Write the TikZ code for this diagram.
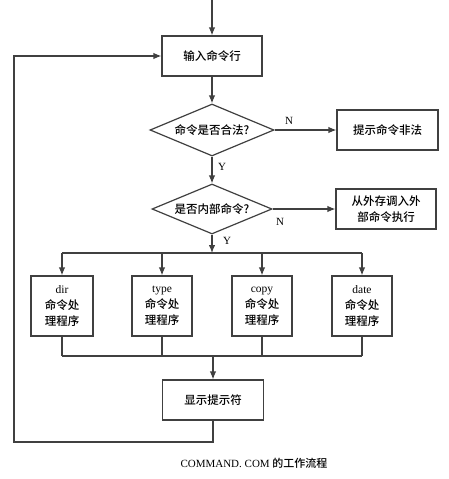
\documentclass[tikz,border=0pt]{standalone}
\usepackage{fontspec}
\setmainfont{Liberation Serif}
\newfontfamily\cjk{Noto Sans CJK SC Medium}
\usetikzlibrary{shapes.geometric,arrows.meta}
\begin{document}
\begin{tikzpicture}[x=1pt,y=-1pt,
  line/.style={draw=black!75,line width=1.2pt},
  arr/.style={line,-{Latex[length=8pt,width=6.5pt]}},
  box/.style={line,rectangle,inner sep=0pt,font=\cjk\fontsize{11.5}{16}\selectfont,align=center},
  dia/.style={line,diamond,inner sep=0pt,aspect=2.4,font=\cjk\fontsize{11.5}{13}\selectfont},
  lbl/.style={font=\fontsize{11}{12}\selectfont,inner sep=0pt}]
\useasboundingbox (0,0) rectangle (449,479);
\fill[white] (0,0) rectangle (449,479);
\coordinate (top) at (212,0);
\node[box,minimum width=100pt,minimum height=40pt] (input) at (212,56) {输入命令行};
\node[dia,minimum width=124pt,minimum height=52pt] (d1) at (212,130) {命令是否合法?};
\node[box,minimum width=101pt,minimum height=40pt] (illegal) at (387.5,130) {提示命令非法};
\node[dia,minimum width=120pt,minimum height=50pt] (d2) at (212,209) {是否内部命令?};
\node[box,minimum width=100pt,minimum height=40pt] (ext) at (386,209) {从外存调入外\\部命令执行};
\coordinate (bus1) at (212,253);
\node[box,minimum width=62pt,minimum height=60pt] (b1) at (62,306) {{\rmfamily dir}\\命令处\\理程序};
\node[box,minimum width=60pt,minimum height=60pt] (b2) at (162,306) {{\rmfamily type}\\命令处\\理程序};
\node[box,minimum width=60pt,minimum height=60pt] (b3) at (262,306) {{\rmfamily copy}\\命令处\\理程序};
\node[box,minimum width=60pt,minimum height=60pt] (b4) at (362,306) {{\rmfamily date}\\命令处\\理程序};
\coordinate (bus2) at (213,356);
\node[box,minimum width=101pt,minimum height=40pt] (disp) at (213,400) {显示提示符};
\coordinate (cl) at (14,442);
\coordinate (cu) at (14,56);
% connectors
\draw[arr] (top) -- (input);
\draw[arr] (input) -- (d1);
\draw[arr] (d1) -- (illegal);
\draw[arr] (d1) -- (d2);
\draw[arr] (d2) -- (ext);
\draw[arr] (d2) -- (bus1);
\draw[line] (b1.north |- bus1) -- (b4.north |- bus1);
\foreach \b in {b1,b2,b3,b4} \draw[arr] (\b.north |- bus1) -- (\b);
\foreach \b in {b1,b2,b3,b4} \draw[line] (\b) -- (\b.south |- bus2);
\draw[line] (b1.south |- bus2) -- (b4.south |- bus2);
\draw[arr] (bus2) -- (disp);
\draw[arr] (disp.south) |- (cl) -- (cu) -- (input);
% labels
\node[lbl] (n1) at (289,121) {N};
\node[lbl] (y1) at (222,167) {Y};
\node[lbl] (n2) at (280,222) {N};
\node[lbl] (y2) at (227,241) {Y};
\node[inner sep=0pt,font=\fontsize{11}{12}\selectfont] (cap) at (254,463) {COMMAND. COM {\cjk 的工作流程}};
\end{tikzpicture}
\end{document}
